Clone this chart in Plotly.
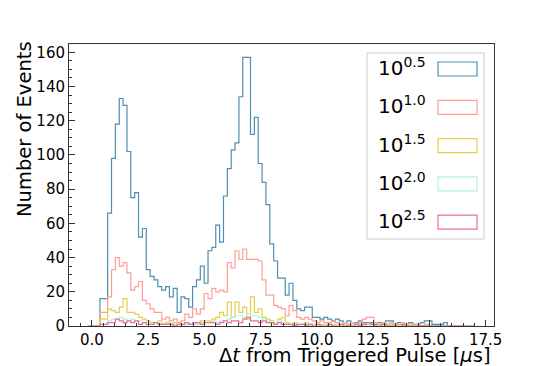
import numpy as np
from plotly import graph_objects as go

# histogram bins (us)
edges = np.linspace(-0.16, 17.0, 101)

labels = ["10<sup>0.5</sup>", "10<sup>1.0</sup>", "10<sup>1.5</sup>",
          "10<sup>2.0</sup>", "10<sup>2.5</sup>"]
colors = ["#4f8fb0", "#ff9d96", "#e2d04a", "#b4f3e0", "#ec6e9b"]

counts_05 = [0, 0, 0, 16, 16, 66, 98, 118, 133, 129,
             102, 75, 78, 52, 57, 33, 29, 27, 23, 21,
             23, 17, 22, 8, 17, 16, 11, 23, 27, 35,
             25, 44, 46, 59, 49, 76, 92, 103, 107, 134,
             157, 157, 112, 122, 95, 84, 71, 48, 38, 28,
             28, 18, 25, 15, 10, 9, 11, 11, 5, 5,
             4, 5, 4, 3, 4, 3, 2, 3, 2, 2,
             3, 2, 1, 2, 1, 2, 1, 3, 3, 1,
             2, 1, 1, 2, 1, 1, 2, 3, 3, 1,
             1, 1, 2, 0, 0, 0, 0, 0, 0, 0]
counts_10 = [0, 0, 0, 8, 8, 17, 33, 40, 35, 37,
             31, 21, 23, 26, 15, 13, 10, 8, 8, 4,
             5, 3, 4, 2, 3, 7, 5, 10, 7, 10,
             19, 16, 22, 20, 21, 20, 37, 34, 44, 39,
             45, 39, 39, 39, 38, 27, 18, 18, 12, 11,
             10, 6, 12, 9, 5, 4, 5, 4, 3, 2,
             3, 2, 2, 3, 2, 1, 2, 1, 2, 1,
             2, 4, 5, 5, 2, 1, 2, 1, 2, 1,
             1, 2, 1, 1, 1, 1, 0, 1, 0, 0,
             0, 0, 0, 0, 0, 0, 0, 0, 0, 0]
counts_15 = [0, 0, 0, 4, 4, 10, 9, 8, 11, 16,
             8, 8, 7, 5, 4, 3, 2, 2, 3, 1,
             2, 1, 2, 1, 1, 2, 1, 2, 1, 3,
             3, 3, 4, 5, 8, 6, 14, 5, 14, 8,
             11, 4, 17, 8, 10, 5, 4, 3, 2, 4,
             5, 2, 1, 2, 1, 1, 2, 1, 1, 0,
             1, 1, 0, 1, 1, 0, 1, 0, 1, 0,
             1, 0, 1, 1, 0, 1, 0, 0, 1, 0,
             1, 0, 0, 1, 0, 0, 0, 0, 0, 0,
             0, 0, 0, 0, 0, 0, 0, 0, 0, 0]
counts_20 = [0, 0, 0, 1, 1, 3, 4, 4, 5, 4,
             3, 4, 3, 3, 2, 2, 1, 2, 1, 1,
             1, 1, 1, 1, 0, 1, 1, 1, 1, 2,
             2, 2, 3, 2, 3, 3, 4, 5, 6, 6,
             5, 7, 6, 6, 5, 4, 3, 2, 2, 3,
             2, 1, 1, 1, 0, 1, 1, 0, 1, 0,
             0, 1, 0, 0, 1, 0, 0, 0, 1, 0,
             0, 0, 1, 0, 0, 0, 0, 0, 0, 0,
             0, 0, 0, 0, 0, 0, 0, 0, 0, 0,
             0, 0, 0, 0, 0, 0, 0, 0, 0, 0]
counts_25 = [0, 0, 0, 1, 1, 2, 2, 4, 3, 2,
             3, 2, 3, 1, 2, 1, 1, 2, 1, 1,
             1, 1, 0, 1, 1, 2, 1, 2, 2, 1,
             2, 2, 2, 1, 2, 3, 2, 3, 3, 2,
             4, 5, 3, 3, 2, 3, 2, 2, 1, 2,
             1, 1, 1, 0, 1, 1, 0, 1, 0, 1,
             0, 0, 1, 0, 0, 1, 0, 0, 0, 1,
             0, 1, 2, 1, 0, 0, 1, 0, 0, 0,
             0, 0, 0, 0, 0, 0, 0, 0, 0, 0,
             0, 0, 0, 0, 0, 0, 0, 0, 0, 0]

series = [counts_05, counts_10, counts_15, counts_20, counts_25]

fig = go.Figure()
for counts, col in zip(series, colors):
    xs = [edges[0]] + list(edges[:-1]) + [edges[-1]]
    ys = [0] + list(counts) + [0]
    fig.add_trace(go.Scatter(x=xs, y=ys, mode="lines", line_shape="hv",
                             line=dict(color=col, width=1.2), showlegend=False))

# page body adds an 8px offset; axes box in the photo is 69..494 x 44..326
OFF = 8
W, H, L, T, R, B = 549, 366, 69, 44, 494, 326
def px(x):
    return (x - L) / (R - L)
def py(y):
    return (B - y) / (B - T)

axis_common = dict(showline=True, linecolor="#333333", linewidth=1, mirror=True,
                   ticks="inside", ticklen=6, tickcolor="#333333", showgrid=False,
                   zeroline=False, tickfont=dict(size=15, color="black"))
fig.update_xaxes(range=[-1.02, 17.87], tick0=0, dtick=2.5, tickformat=".1f",
                 minor=dict(dtick=0.5, ticks="inside", ticklen=3, tickcolor="#333333"),
                 **axis_common)
fig.update_yaxes(range=[0, 164.85], tick0=0, dtick=20,
                 minor=dict(dtick=5, ticks="inside", ticklen=3, tickcolor="#333333"),
                 **axis_common)

shapes = [dict(type="rect", xref="paper", yref="paper", x0=px(367), x1=px(484),
               y0=py(239), y1=py(53), line=dict(color="#cccccc", width=1),
               fillcolor="white", layer="above")]
annotations = []
for i, (lab, col) in enumerate(zip(labels, colors)):
    cy = 69 + 38.3 * i
    shapes.append(dict(type="rect", xref="paper", yref="paper", x0=px(438), x1=px(477),
                       y0=py(cy + 7), y1=py(cy - 7), line=dict(color=col, width=1.2),
                       layer="above"))
    annotations.append(dict(text=lab, xref="paper", yref="paper", x=px(376), y=py(cy - 2),
                            xanchor="left", yanchor="middle", showarrow=False,
                            font=dict(size=20, color="black")))

annotations.append(dict(text="Number of Events", xref="paper", yref="paper",
                        x=px(24), y=py(39), xanchor="center", yanchor="top",
                        textangle=-90, showarrow=False, font=dict(size=19.5, color="black")))
annotations.append(dict(text="Δ<i>t</i> from Triggered Pulse [<i>μ</i>s]", xref="paper",
                        yref="paper", x=px(493), y=py(355), xanchor="right",
                        yanchor="middle", showarrow=False, font=dict(size=19.5, color="black")))

fig.update_layout(width=W - OFF, height=H - OFF,
                  margin=dict(l=L - OFF, r=W - R, t=T - OFF, b=H - B),
                  plot_bgcolor="white", paper_bgcolor="white",
                  font=dict(family="DejaVu Sans"),
                  shapes=shapes, annotations=annotations)

fig.write_html("out.html")
